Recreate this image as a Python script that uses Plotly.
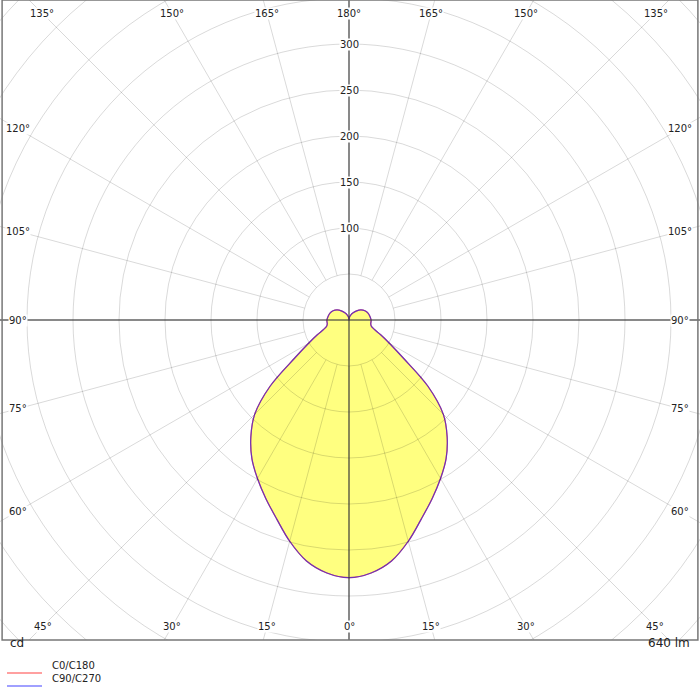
import numpy as np
import plotly.graph_objects as go

angles = [0,5,10,15,20,25,30,35,40,45,50,55,60,65,70,75,80,85,90,100,110,120,130,140,150,160,170,180]
c0_c180 = [280,276,266,249,230,214,199,184,166,145,112,72,51,38,29,25,24,24,24,23,22,20,17,13,9,6,3,0]
c90_c270 = list(c0_c180)
radial_ticks = [100,150,200,250,300]
angle_ticks = list(range(0,181,15))
flux_label = "640 lm"

S = 0.92  # px per cd
W, H = 700, 640
cx, cy = 349, 320

def curve(vals):
    a = np.array(angles, float); v = np.array(vals, float)
    full_a = np.concatenate([-a[::-1], a[1:]])
    full_v = np.concatenate([v[::-1], v[1:]])
    t = np.radians(full_a)
    return full_v*np.sin(t), -full_v*np.cos(t)

fig = go.Figure()
x0, y0 = curve(c0_c180)
fig.add_trace(go.Scatter(x=x0, y=y0, fill="toself", fillcolor="#ffff80", mode="none", hoverinfo="skip",
                         line=dict(shape="spline")))

shapes = []
grid = "rgba(0,0,0,0.15)"
for r in range(50, 551, 50):
    shapes.append(dict(type="circle", xref="x", yref="y", x0=-r, x1=r, y0=-r, y1=r,
                       line=dict(color=grid, width=1), layer="above"))
for a in range(0, 360, 15):
    t = np.radians(a)
    shapes.append(dict(type="line", xref="x", yref="y", x0=50*np.sin(t), y0=-50*np.cos(t),
                       x1=700*np.sin(t), y1=-700*np.cos(t), line=dict(color=grid, width=1), layer="above"))
ax = "rgba(60,60,60,0.75)"
shapes.append(dict(type="line", xref="x", yref="y", x0=-500, x1=500, y0=0, y1=0, line=dict(color=ax, width=1.5), layer="above"))
shapes.append(dict(type="line", xref="x", yref="y", x0=0, x1=0, y0=-500, y1=500, line=dict(color=ax, width=1.5), layer="above"))
fb = (700-640)/700
shapes.append(dict(type="rect", xref="paper", yref="paper", x0=0.003, x1=0.997, y0=fb, y1=1.0,
                   line=dict(color="#777", width=1.5)))
shapes.append(dict(type="line", xref="paper", yref="paper", x0=7/700, x1=42/700, y0=1-673/700, y1=1-673/700, line=dict(color="#ff8080", width=1.5)))
shapes.append(dict(type="line", xref="paper", yref="paper", x0=7/700, x1=42/700, y0=1-686/700, y1=1-686/700, line=dict(color="#8080ff", width=1.5)))

x1, y1 = curve(c0_c180)
fig.add_trace(go.Scatter(x=x1, y=y1, mode="lines", line=dict(color="rgba(255,60,60,0.9)", width=1.2, shape="spline"), hoverinfo="skip"))
x2, y2 = curve(c90_c270)
fig.add_trace(go.Scatter(x=x2, y=y2, mode="lines", line=dict(color="rgba(60,40,220,0.75)", width=1.2, shape="spline"), hoverinfo="skip"))

font = dict(family="DejaVu Sans", size=10, color="#222")
ann = []
for r in radial_ticks:
    ann.append(dict(x=0, y=r, xref="x", yref="y", text=str(r), showarrow=False, font=font, bgcolor="white", borderpad=0))
hx = (cx-18)/S; hb = (H-cy-14)/S; ht = (cy-13)/S
for a in angle_ticks:
    for sgn in ([1] if a in (0,180) else [-1,1]):
        t = np.radians(a)
        dx, dy = sgn*np.sin(t), -np.cos(t)
        ks = []
        if abs(dx) > 1e-9: ks.append(hx/abs(dx))
        if dy < -1e-9: ks.append(hb/abs(dy))
        if dy > 1e-9: ks.append(ht/dy)
        k = min(ks)
        ann.append(dict(x=k*dx, y=k*dy, xref="x", yref="y", text=f"{a}°", showarrow=False, font=font, bgcolor="white", borderpad=0))
f2 = dict(family="DejaVu Sans", size=12, color="#222")
ann.append(dict(x=8/700, y=1-652/700, xref="paper", yref="paper", text="cd", showarrow=False, xanchor="left", font=f2))
ann.append(dict(x=692/700, y=1-652/700, xref="paper", yref="paper", text=flux_label, showarrow=False, xanchor="right", font=f2))
ann.append(dict(x=50/700, y=1-673/700, xref="paper", yref="paper", text="C0/C180", showarrow=False, xanchor="left", font=font))
ann.append(dict(x=50/700, y=1-686/700, xref="paper", yref="paper", text="C90/C270", showarrow=False, xanchor="left", font=font))

fig.update_layout(width=700, height=700, margin=dict(l=0, r=0, t=0, b=0), showlegend=False,
                  plot_bgcolor="white", paper_bgcolor="white", shapes=shapes, annotations=ann,
                  xaxis=dict(range=[-cx/S, (W-cx)/S], visible=False, fixedrange=True),
                  yaxis=dict(range=[-(H-cy)/S, cy/S], visible=False, domain=[fb, 1], fixedrange=True))
fig.write_html("out.html", config={"displayModeBar": False},
               post_script="document.body.style.margin='0';document.body.style.overflow='hidden';")
